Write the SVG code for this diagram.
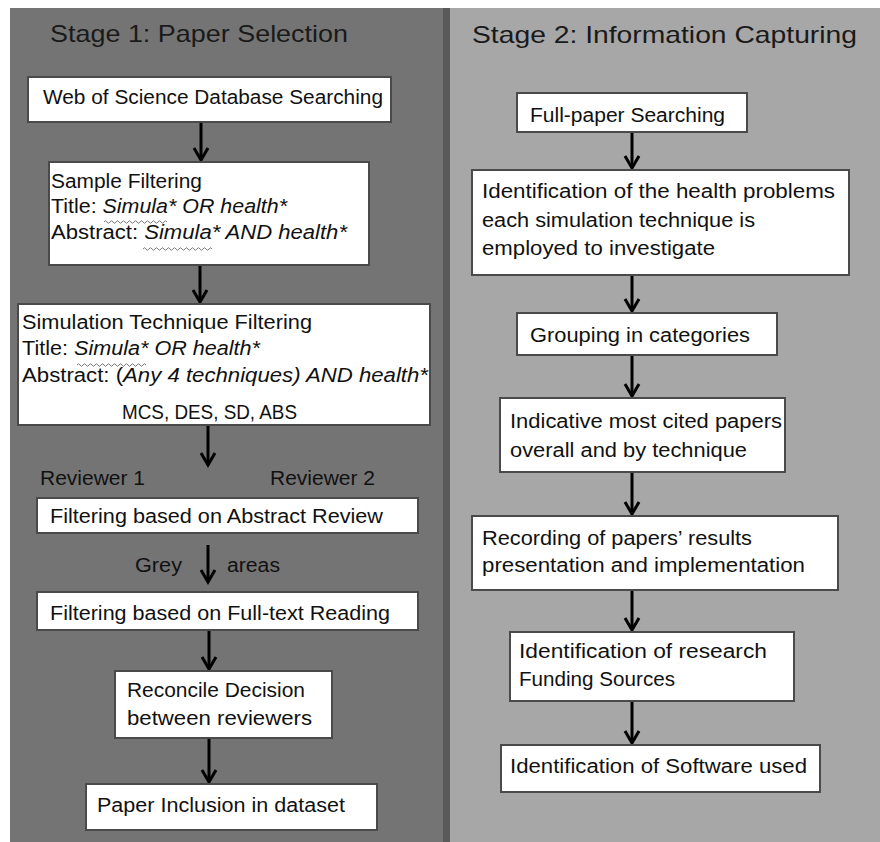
<svg xmlns="http://www.w3.org/2000/svg" width="880" height="842" viewBox="0 0 880 842">
<defs>
<style>
.t{font-family:"Liberation Sans",Arial,sans-serif;font-size:20px;fill:#111}
.h{font-family:"Liberation Sans",Arial,sans-serif;font-size:24px;fill:#1a1a1a}
.box{fill:#fff;stroke:#4a4a4a;stroke-width:2}
.arr{stroke:#000;stroke-width:3;fill:none;marker-end:url(#ah)}
.sq{fill:none;stroke:#7a7a7a;stroke-width:1}
.i{font-style:italic}
</style>
<marker id="ah" markerUnits="userSpaceOnUse" viewBox="-14 -9 16 18" refX="0" refY="0" markerWidth="16" markerHeight="18" orient="auto" overflow="visible">
<path d="M-12 -7 L0 0 L-12 7" fill="none" stroke="#000" stroke-width="3"/>
</marker>
</defs>
<rect x="0" y="0" width="880" height="842" fill="#fff"/>
<g id="panel-stage1">
<rect x="10" y="8" width="434" height="834" fill="#747474"/>
<rect x="443" y="8" width="7" height="834" fill="#5a5a5a"/>
<text class="h" x="50" y="42" textLength="298" lengthAdjust="spacingAndGlyphs">Stage 1: Paper Selection</text>
</g>
<g id="panel-stage2">
<rect x="450" y="8" width="430" height="834" fill="#a7a7a7"/>
<text class="h" x="472" y="43" textLength="385" lengthAdjust="spacingAndGlyphs">Stage 2: Information Capturing</text>
</g>
<g id="connectors">
<line class="arr" x1="201" y1="123" x2="201" y2="160"/>
<line class="arr" x1="200" y1="266" x2="200" y2="302"/>
<line class="arr" x1="208" y1="426" x2="208" y2="465"/>
<line class="arr" x1="208" y1="545" x2="208" y2="582"/>
<line class="arr" x1="209" y1="631" x2="209" y2="669"/>
<line class="arr" x1="209" y1="739" x2="209" y2="782"/>
<line class="arr" x1="632" y1="133" x2="632" y2="168"/>
<line class="arr" x1="632" y1="276" x2="632" y2="311"/>
<line class="arr" x1="632" y1="356" x2="632" y2="396"/>
<line class="arr" x1="632" y1="473" x2="632" y2="514"/>
<line class="arr" x1="632" y1="591" x2="632" y2="630"/>
<line class="arr" x1="632" y1="702" x2="632" y2="743"/>
</g>
<g id="n-wos">
<rect class="box" x="28" y="77" width="363" height="45"/>
<text class="t" x="43" y="104" textLength="340" lengthAdjust="spacingAndGlyphs">Web of Science Database Searching</text>
</g>
<g id="n-sample">
<rect class="box" x="49" y="162" width="320" height="103"/>
<text class="t" x="51" y="188" textLength="151" lengthAdjust="spacingAndGlyphs">Sample Filtering</text>
<text class="t" x="51" y="213" textLength="236" lengthAdjust="spacingAndGlyphs">Title: <tspan class="i">Simula*  OR health*</tspan></text>
<text class="t" x="51" y="239" textLength="296" lengthAdjust="spacingAndGlyphs">Abstract: <tspan class="i">Simula* AND health*</tspan></text>
<path class="sq" d="M104 222 q1.5 -2.5 3 0 t3 0 t3 0 t3 0 t3 0 t3 0 t3 0 t3 0 t3 0 t3 0 t3 0 t3 0 t3 0 t3 0 t3 0 t3 0 t3 0 t3 0 t3 0 t3 0 t3 0"/>
<path class="sq" d="M143 249 q1.5 -2.5 3 0 t3 0 t3 0 t3 0 t3 0 t3 0 t3 0 t3 0 t3 0 t3 0 t3 0 t3 0 t3 0 t3 0 t3 0 t3 0 t3 0 t3 0 t3 0 t3 0 t3 0 t3 0 t3 0"/>
</g>
<g id="n-technique">
<rect class="box" x="18" y="304" width="412" height="121"/>
<text class="t" x="22" y="329" textLength="290" lengthAdjust="spacingAndGlyphs">Simulation Technique Filtering</text>
<text class="t" x="22" y="355" textLength="238" lengthAdjust="spacingAndGlyphs">Title: <tspan class="i">Simula*  OR health*</tspan></text>
<text class="t" x="22" y="382" textLength="406" lengthAdjust="spacingAndGlyphs">Abstract: (<tspan class="i">Any 4 techniques) AND health*</tspan></text>
<text class="t" x="122" y="419" textLength="175" lengthAdjust="spacingAndGlyphs">MCS, DES, SD, ABS</text>
<path class="sq" d="M77 365 q1.5 -2.5 3 0 t3 0 t3 0 t3 0 t3 0 t3 0 t3 0 t3 0 t3 0 t3 0 t3 0 t3 0 t3 0 t3 0 t3 0 t3 0 t3 0 t3 0 t3 0 t3 0 t3 0 t3 0 t3 0"/>
</g>
<g id="l-reviewers">
<text class="t" x="40" y="485" textLength="105" lengthAdjust="spacingAndGlyphs">Reviewer 1</text>
<text class="t" x="270" y="485" textLength="105" lengthAdjust="spacingAndGlyphs">Reviewer 2</text>
</g>
<g id="n-abstract">
<rect class="box" x="37" y="498" width="381" height="35"/>
<text class="t" x="50" y="523" textLength="333" lengthAdjust="spacingAndGlyphs">Filtering based on Abstract Review</text>
</g>
<g id="l-grey">
<text class="t" x="135" y="572" textLength="47" lengthAdjust="spacingAndGlyphs">Grey</text>
<text class="t" x="227" y="572" textLength="53" lengthAdjust="spacingAndGlyphs">areas</text>
</g>
<g id="n-fulltext">
<rect class="box" x="37" y="592" width="381" height="38"/>
<text class="t" x="50" y="620" textLength="340" lengthAdjust="spacingAndGlyphs">Filtering based on Full-text Reading</text>
</g>
<g id="n-reconcile">
<rect class="box" x="115" y="671" width="217" height="67"/>
<text class="t" x="127" y="697" textLength="178" lengthAdjust="spacingAndGlyphs">Reconcile Decision</text>
<text class="t" x="127" y="725" textLength="185" lengthAdjust="spacingAndGlyphs">between reviewers</text>
</g>
<g id="n-inclusion">
<rect class="box" x="86" y="784" width="291" height="46"/>
<text class="t" x="97" y="812" textLength="248" lengthAdjust="spacingAndGlyphs">Paper Inclusion in dataset</text>
</g>
<g id="n-fullpaper">
<rect class="box" x="517" y="93" width="230" height="39"/>
<text class="t" x="530" y="122" textLength="195" lengthAdjust="spacingAndGlyphs">Full-paper Searching</text>
</g>
<g id="n-health">
<rect class="box" x="472" y="170" width="377" height="105"/>
<text class="t" x="482" y="198" textLength="353" lengthAdjust="spacingAndGlyphs">Identification of the health problems</text>
<text class="t" x="482" y="227" textLength="273" lengthAdjust="spacingAndGlyphs">each simulation technique is</text>
<text class="t" x="482" y="255" textLength="233" lengthAdjust="spacingAndGlyphs">employed to investigate</text>
</g>
<g id="n-grouping">
<rect class="box" x="517" y="313" width="260" height="42"/>
<text class="t" x="530" y="342" textLength="220" lengthAdjust="spacingAndGlyphs">Grouping in categories</text>
</g>
<g id="n-cited">
<rect class="box" x="500" y="398" width="285" height="74"/>
<text class="t" x="510" y="428" textLength="272" lengthAdjust="spacingAndGlyphs">Indicative most cited papers</text>
<text class="t" x="510" y="457" textLength="237" lengthAdjust="spacingAndGlyphs">overall and by technique</text>
</g>
<g id="n-recording">
<rect class="box" x="472" y="516" width="366" height="74"/>
<text class="t" x="482" y="545" textLength="270" lengthAdjust="spacingAndGlyphs">Recording of papers’ results</text>
<text class="t" x="482" y="572" textLength="323" lengthAdjust="spacingAndGlyphs">presentation and implementation</text>
</g>
<g id="n-funding">
<rect class="box" x="510" y="632" width="284" height="69"/>
<text class="t" x="519" y="658" textLength="248" lengthAdjust="spacingAndGlyphs">Identification of  research</text>
<text class="t" x="519" y="686" textLength="156" lengthAdjust="spacingAndGlyphs">Funding Sources</text>
</g>
<g id="n-software">
<rect class="box" x="501" y="745" width="319" height="47"/>
<text class="t" x="510" y="773" textLength="297" lengthAdjust="spacingAndGlyphs">Identification of Software used</text>
</g>
</svg>
